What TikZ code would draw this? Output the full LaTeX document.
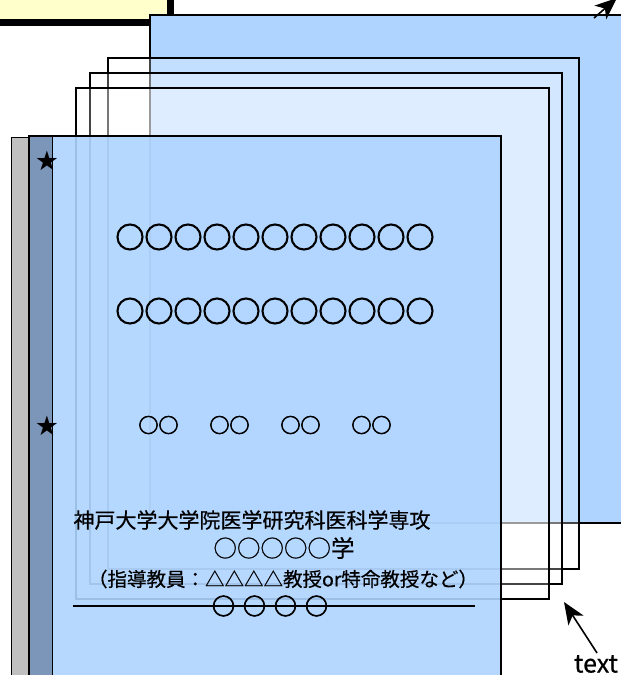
\documentclass[tikz,border=0pt]{standalone}
\usepackage{fontspec}
\setmainfont[FakeBold=0.5]{Noto Sans CJK JP}
\newfontfamily\heavyfont[FakeBold=3.5]{Noto Sans CJK JP}
\newfontfamily\starfont{DejaVu Sans}
\usetikzlibrary{arrows.meta,positioning}

\definecolor{coverblue}{RGB}{174,212,255}
\definecolor{spinegrey}{RGB}{192,192,192}
\definecolor{spineblue}{RGB}{124,150,186}
\definecolor{notecream}{RGB}{255,255,204}

\newcommand{\fsize}[1]{\fontsize{#1}{#1}\selectfont}
\newcommand{\wordgap}[1]{\spaceskip=#1\relax}

\begin{document}
\begin{tikzpicture}
	[
	 %Styles
	 x=1pt,y=-1pt,
	 back_sheet/.style={draw=black,line width=1.3pt,fill=coverblue},
	 mid_sheet/.style={draw=black,line width=1.5pt,fill=white,fill opacity=0.27},
	 cover_sheet/.style={draw=black,line width=1.3pt,fill=coverblue,fill opacity=0.9},
	 spine_strip/.style={draw=black,line width=1pt},
	 label_simple/.style={inner sep=0pt,text=black},
	 circle_row/.style={label_simple,font=\heavyfont\fsize{29}},
	 star_mark/.style={label_simple,font=\starfont\fsize{27}},
	 pointer/.style={line width=1.6pt,-{Stealth[length=22pt,width=18pt,inset=6pt]}}
	]

	\clip (0,0) rectangle (621,675);

	%Note box with shadow
	\fill[black] (-20,-20) rectangle (174,26);
	\draw[line width=1.5pt,fill=notecream] (-20,-20) rectangle (168,20);

	%Sheets behind
	\draw[back_sheet] (150,15) rectangle (660,523);
	\draw[mid_sheet] (108,58) rectangle (579,569);
	\draw[mid_sheet] (90,73) rectangle (562,584);
	\draw[mid_sheet] (76,88) rectangle (549,599);

	%Cover and spine
	\draw[spine_strip,fill=spinegrey] (11,137) rectangle (29,700);
	\draw[cover_sheet] (29,136) rectangle (501,700);
	\draw[spine_strip,fill=spineblue] (29,136) rectangle (52,700);

	%Node placement
	\node (star1) at (47,161) [star_mark] {★};
	\node (star2) at (47,426) [star_mark] {★};

	\node (title1) at (275,237) [circle_row] {○○○○○○○○○○○};
	\node (title2) at (275,311) [circle_row] {○○○○○○○○○○○};
	\node (names) at (265,425) [label_simple,font={\heavyfont\fsize{20}\wordgap{31pt}}] {○○ ○○ ○○ ○○};

	\node (school) at (252,520) [label_simple,font=\fsize{21}] {神戸大学大学院医学研究科医科学専攻};
	\node (degree) at (284,548) [label_simple,font=\fsize{23.5}] {○○○○○学};
	\node (advisor) at (283,579) [label_simple,font=\fsize{19.5}] {（指導教員：△△△△教授or特命教授など）};

	\coordinate (ruleL) at (73,606);
	\coordinate (ruleR) at (475,606);
	\draw[line width=1.5pt] (ruleL) -- (ruleR);
	\node (year) at (270,606) [label_simple,font={\heavyfont\fsize{23}\wordgap{8pt}}] {○ ○ ○ ○};

	\node (textlabel) at (596,664) [label_simple,font=\fsize{25}] {text};
	\coordinate (sheettip) at (564,602);
	\coordinate (cornertail) at (594,18);
	\coordinate (cornertip) at (617,-2);

	%Edges
	\path (textlabel.north) ++(1,-2) coordinate (texttail);
	\draw[pointer] (texttail) -- (sheettip);
	\draw[pointer] (cornertail) -- (cornertip);
\end{tikzpicture}
\end{document}
